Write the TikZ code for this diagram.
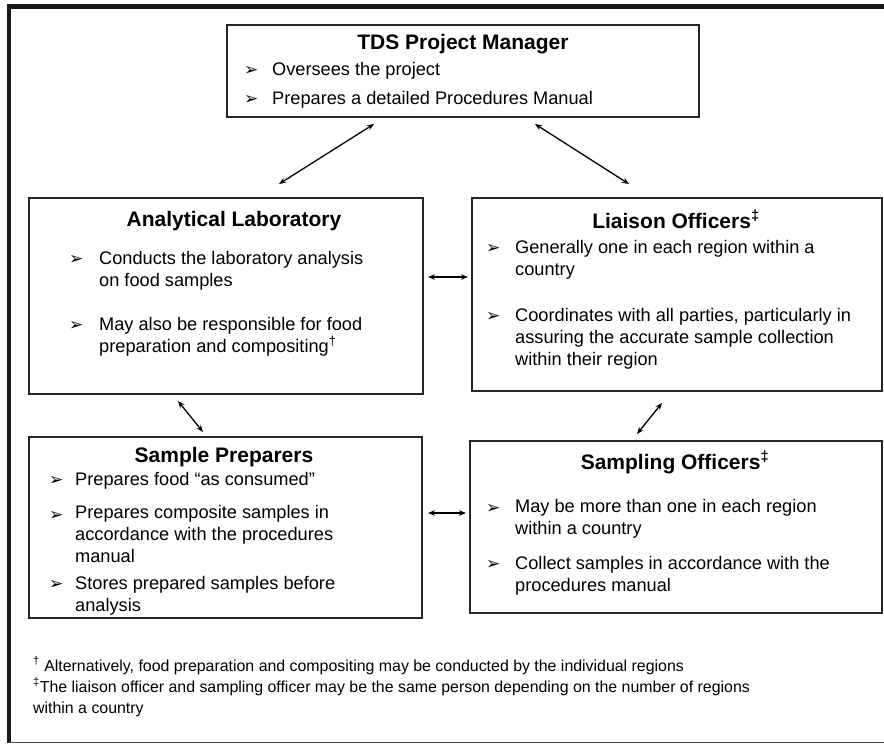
\documentclass[tikz,border=0pt]{standalone}
\usepackage{fontspec}
\setmainfont{Liberation Sans}
\newfontfamily\bulletfont{DejaVu Sans}
\usetikzlibrary{arrows.meta,positioning,calc}

\tikzset{
  unitbox/.style={draw=black!85, line width=2pt, anchor=north west, inner sep=0pt},
  boxtitle/.style={font=\fontsize{21}{25}\selectfont\bfseries, anchor=base, inner sep=0pt},
  itemtext/.style={font=\fontsize{18.2}{22}\selectfont, anchor=base west, inner sep=0pt},
  bullet/.style={font=\bulletfont\fontsize{17}{17}\selectfont, anchor=base west, inner sep=0pt},
  notetext/.style={font=\fontsize{15.9}{18}\selectfont, anchor=base west, inner sep=0pt},
  link/.style={{Stealth[length=7pt,width=5.5pt]}-{Stealth[length=7pt,width=5.5pt]}, line width=1.3pt}
}

\begin{document}
\begin{tikzpicture}[x=1pt, y=-1pt]
    \useasboundingbox (0,0) rectangle (884,745);

    % outer frame
    \draw[line width=4.5pt, black!90] (7,6.5) -- (884,6.5);
    \draw[line width=3.5pt, black!90] (9,4.5) -- (9,743);
    \draw[line width=1.2pt, black!70] (9,742.5) -- (884,742.5);

    % boxes
    \node[unitbox, minimum width=472pt, minimum height=92pt] (manager) at (226,24) {};
    \node[unitbox, minimum width=394pt, minimum height=196pt] (lab) at (28,197) {};
    \node[unitbox, minimum width=410pt, minimum height=193pt] (liaison) at (471,197) {};
    \node[unitbox, minimum width=393pt, minimum height=181pt] (preparers) at (28,436) {};
    \node[unitbox, minimum width=412pt, minimum height=172pt] (sampling) at (469,440) {};

    % TDS Project Manager
    \node[boxtitle] (mgrtitle) at (463,49) {TDS Project Manager};
    \node[bullet] (mgrb1) at (244,75) {➢}; \node[itemtext] (mgr1) at (272,75) {Oversees the project};
    \node[bullet] (mgrb2) at (244,104) {➢}; \node[itemtext] (mgr2) at (272,104) {Prepares a detailed Procedures Manual};

    % Analytical Laboratory
    \node[boxtitle] (labtitle) at (234,226) {Analytical Laboratory};
    \node[bullet] (labb1) at (69,264) {➢}; \node[itemtext] (lab1) at (99,264) {Conducts the laboratory analysis};
    \node[itemtext] (lab2) at (99,286) {on food samples};
    \node[bullet] (labb2) at (69,330) {➢}; \node[itemtext] (lab3) at (99,330) {May also be responsible for food};
    \node[itemtext] (lab4) at (99,352) {preparation and compositing\textsuperscript{†}};

    % Liaison Officers
    \node[boxtitle] (liatitle) at (676,228) {Liaison Officers\textsuperscript{‡}};
    \node[bullet] (liab1) at (486,253) {➢}; \node[itemtext] (lia1) at (515,253) {Generally one in each region within a};
    \node[itemtext] (lia2) at (515,275) {country};
    \node[bullet] (liab2) at (486,321) {➢}; \node[itemtext] (lia3) at (515,321) {Coordinates with all parties, particularly in};
    \node[itemtext] (lia4) at (515,343) {assuring the accurate sample collection};
    \node[itemtext] (lia5) at (515,365) {within their region};

    % Sample Preparers
    \node[boxtitle] (preptitle) at (224,462) {Sample Preparers};
    \node[bullet] (prepb1) at (49,485) {➢}; \node[itemtext] (prep1) at (75,485) {Prepares food “as consumed”};
    \node[bullet] (prepb2) at (49,520) {➢}; \node[itemtext] (prep2) at (75,518) {Prepares composite samples in};
    \node[itemtext] (prep3) at (75,540) {accordance with the procedures};
    \node[itemtext] (prep4) at (75,562) {manual};
    \node[bullet] (prepb3) at (49,589) {➢}; \node[itemtext] (prep5) at (75,589) {Stores prepared samples before};
    \node[itemtext] (prep6) at (75,611) {analysis};

    % Sampling Officers
    \node[boxtitle] (samtitle) at (675,469) {Sampling Officers\textsuperscript{‡}};
    \node[bullet] (samb1) at (486,513) {➢}; \node[itemtext] (sam1) at (515,512) {May be more than one in each region};
    \node[itemtext] (sam2) at (515,534) {within a country};
    \node[bullet] (samb2) at (486,569) {➢}; \node[itemtext] (sam3) at (515,569) {Collect samples in accordance with the};
    \node[itemtext] (sam4) at (515,591) {procedures manual};

    % links between boxes
    \draw[link] ($(manager.south west)+(148,6)$) -- ($(lab.north west)+(251,-13)$);
    \draw[link] ($(manager.south west)+(309,6)$) -- ($(liaison.north west)+(158,-13)$);
    \draw[link] ($(lab.north east)+(4,80)$) -- ($(liaison.north west)+(-3,80)$);
    \draw[link] ($(lab.south west)+(150,6)$) -- ($(preparers.north west)+(175,-4)$);
    \draw[link] ($(liaison.south west)+(191,11)$) -- ($(sampling.north west)+(168,-6)$);
    \draw[link] ($(preparers.north east)+(5,77)$) -- ($(sampling.north west)+(-3,73)$);

    % footnotes
    \node[notetext] (note1) at (33,671) {\textsuperscript{†} Alternatively, food preparation and compositing may be conducted by the individual regions};
    \node[notetext] (note2) at (33,692) {\textsuperscript{‡}The liaison officer and sampling officer may be the same person depending on the number of regions};
    \node[notetext] (note3) at (33,713) {within a country};
\end{tikzpicture}
\end{document}
